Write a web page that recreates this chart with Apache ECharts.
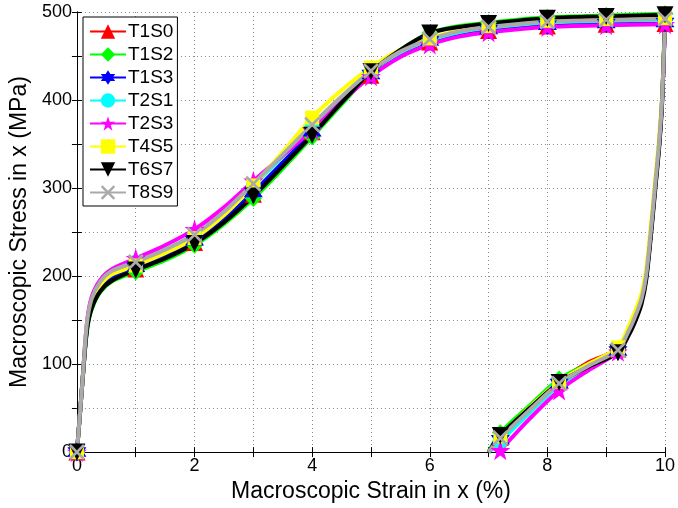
<!DOCTYPE html>
<html>
<head>
<meta charset="utf-8">
<script src="https://cdn.jsdelivr.net/npm/echarts@6/dist/echarts.min.js"></script>
<style>
  html, body { margin: 0; padding: 0; background: #fff; }
  #chart { width: 678px; height: 508px; }
</style>
</head>
<body>
<div id="chart"></div>
<script>
// strain (%) of the loading and unloading branches
const loadStrain = [0, 0.05, 0.1, 0.17, 0.25, 0.4, 0.6, 1, 1.5, 2, 2.5, 3, 3.5, 4, 4.5, 5, 5.5, 6, 6.5, 7, 8, 9, 10];
const unloadStrain = [10, 9.95, 9.9, 9.83, 9.76, 9.68, 9.6, 9.48, 9.37, 9.2, 8.7, 8.2, 7.7, 7.2, 7.0];
// strains where the markers are drawn
const loadMarks = [0, 1, 2, 3, 4, 5, 6, 7, 8, 9, 10];
const unloadMarks = [9.2, 8.2, 7.2];

const names = ["T1S0", "T1S2", "T1S3", "T2S1", "T2S3", "T4S5", "T6S7", "T8S9"];
const colors = ["#ff0000", "#00ff00", "#0000ff", "#00ffff", "#ff00ff", "#ffff00", "#000000", "#aaaaaa"];

// stress (MPa), loading
const loadT1S0 = [0, 42, 85, 140, 166, 186, 198, 208, 222, 238, 263, 293, 328, 364, 398, 428, 451, 466, 474, 479, 484, 486, 487];
const loadT1S2 = [0, 42, 85, 138, 162, 182, 194, 205, 218, 235, 259, 288, 322, 358, 395, 431, 457, 476, 484, 488, 494, 496, 498];
const loadT1S3 = [0, 42, 85, 141, 168, 188, 200, 210, 224, 240, 265, 295, 329, 364, 398, 429, 452, 467, 475, 480, 485, 487, 488];
const loadT2S1 = [0, 42, 86, 145, 173, 193, 205, 216, 230, 247, 272, 303, 336, 370, 403, 432, 454, 468, 477, 482, 488, 490, 491];
const loadT2S3 = [0, 43, 87, 147, 176, 196, 208, 220, 235, 253, 278, 308, 337, 366, 398, 427, 449, 463, 472, 477, 483, 485, 486];
const loadT4S5 = [0, 42, 85, 143, 170, 190, 202, 212, 226, 243, 269, 303, 341, 380, 411, 437, 457, 470, 479, 484, 490, 492, 493];
const loadT6S7 = [0, 42, 85, 138, 163, 183, 195, 207, 220, 237, 261, 291, 325, 360, 397, 432, 457, 476, 483, 487, 493, 495, 497];
const loadT8S9 = [0, 42, 86, 146, 174, 194, 206, 216, 230, 247, 273, 305, 338, 372, 404, 433, 455, 469, 478, 483, 489, 491, 492];

// stress (MPa), unloading
const unloadT1S0 = [487, 400, 351, 300, 250, 200, 173, 152, 137, 117, 102, 80, 50, 17, 0];
const unloadT1S2 = [498, 397, 348, 298, 248, 198, 171, 149, 133, 116, 100, 83, 53, 22, 0];
const unloadT1S3 = [488, 400, 350, 300, 250, 200, 173, 151, 135, 115, 98, 78, 47, 14, 0];
const unloadT2S1 = [491, 400, 350, 300, 250, 200, 173, 151, 135, 115, 97, 76, 45, 12, 0];
const unloadT2S3 = [486, 398, 349, 299, 249, 199, 172, 150, 134, 114, 93, 70, 38, 2, null];
const unloadT4S5 = [493, 405, 357, 307, 258, 208, 180, 158, 141, 119, 100, 80, 51, 18, 0];
const unloadT6S7 = [497, 395, 345, 295, 245, 195, 168, 146, 131, 113, 97, 79, 50, 19, 0];
const unloadT8S9 = [492, 400, 351, 301, 251, 201, 174, 152, 136, 116, 98, 78, 48, 16, 0];

const loads = [loadT1S0, loadT1S2, loadT1S3, loadT2S1, loadT2S3, loadT4S5, loadT6S7, loadT8S9];
const unloads = [unloadT1S0, unloadT1S2, unloadT1S3, unloadT2S1, unloadT2S3, unloadT4S5, unloadT6S7, unloadT8S9];

const star5 = "path://M50,0 L61.2,34.5 L97.6,34.5 L68.2,55.9 L79.4,90.5 L50,69.1 L20.6,90.5 L31.8,55.9 L2.4,34.5 L38.8,34.5 Z";
const star6 = "path://M50,0 L64.4,25 L93.3,25 L78.9,50 L93.3,75 L64.4,75 L50,100 L35.6,75 L6.7,75 L21.1,50 L6.7,25 L35.6,25 Z";
const cross = "path://M12,0 L50,38 L88,0 L100,12 L62,50 L100,88 L88,100 L50,62 L12,100 L0,88 L38,50 L0,12 Z";
const symbols = ["triangle", "diamond", star6, "circle", star5, "rect", "triangle", cross];
const rotates = [0, 0, 0, 0, 0, 0, 180, 0];
const sizes = [17, 17, 19, 15, 20, 14, 17, 16];

function points(xs, ys, marks) {
  let out = [];
  for (let i = 0; i < xs.length; i++) {
    if (ys[i] === null) continue;
    let p = { value: [xs[i], ys[i]] };
    if (!marks.includes(xs[i])) p.symbol = "none";
    out.push(p);
  }
  return out;
}

let series = [];
for (let k = 0; k < names.length; k++) {
  let common = {
    type: "line",
    name: names[k],
    symbol: symbols[k],
    symbolSize: sizes[k],
    symbolRotate: rotates[k],
    smooth: 0.3,
    showAllSymbol: true,
    itemStyle: { color: colors[k] },
    lineStyle: { width: 4, color: colors[k] },
    emphasis: { disabled: true },
    animation: false
  };
  series.push(Object.assign({}, common, { data: points(loadStrain, loads[k], loadMarks) }));
  series.push(Object.assign({}, common, { data: points(unloadStrain, unloads[k], unloadMarks) }));
}

const font = "Liberation Sans";
const chart = echarts.init(document.getElementById("chart"));
chart.setOption({
  animation: false,
  grid: { left: 76, right: 12, top: 12, bottom: 54 },
  legend: {
    data: names,
    orient: "vertical",
    left: 83,
    top: 17,
    itemWidth: 36,
    itemHeight: 18,
    itemGap: 4,
    padding: [5, 4, 4, 6],
    borderColor: "#000",
    borderWidth: 1,
    backgroundColor: "#fff",
    textStyle: { fontFamily: font, fontSize: 19, color: "#000", padding: [0, 0, 0, -3] },
    selectedMode: false
  },
  xAxis: [
    {
      type: "value",
      min: 0,
      max: 10,
      interval: 1,
      name: "Macroscopic Strain in x (%)",
      nameLocation: "middle",
      nameGap: 24,
      nameTextStyle: { fontFamily: font, fontSize: 23, color: "#000" },
      axisLine: { lineStyle: { color: "#000", width: 1 } },
      axisTick: { inside: true, length: 5, lineStyle: { color: "#000" } },
      axisLabel: {
        fontFamily: font,
        fontSize: 18,
        color: "#000",
        margin: 5,
        formatter: v => (v % 2 === 0 ? String(v) : "")
      },
      splitLine: { show: true, lineStyle: { type: [1, 3], color: "#888", width: 1 } }
    },
    {
      type: "value",
      position: "top",
      min: 0,
      max: 10,
      interval: 1,
      axisLine: { show: true, lineStyle: { color: "#000", width: 1 } },
      axisTick: { inside: true, length: 5, lineStyle: { color: "#000" } },
      axisLabel: { show: false },
      splitLine: { show: false }
    }
  ],
  yAxis: [
    {
      type: "value",
      min: 0,
      max: 500,
      interval: 50,
      name: "Macroscopic Stress in x (MPa)",
      nameLocation: "middle",
      nameGap: 42,
      nameTextStyle: { fontFamily: font, fontSize: 23, color: "#000" },
      axisLine: { show: true, lineStyle: { color: "#000", width: 1 } },
      axisTick: { show: true, inside: true, length: 5, lineStyle: { color: "#000" } },
      axisLabel: {
        fontFamily: font,
        fontSize: 18,
        color: "#000",
        margin: 5,
        formatter: v => (v % 100 === 0 ? String(v) : "")
      },
      splitLine: { show: true, lineStyle: { type: [1, 3], color: "#888", width: 1 } }
    },
    {
      type: "value",
      position: "right",
      min: 0,
      max: 500,
      interval: 50,
      axisLine: { show: true, lineStyle: { color: "#000", width: 1 } },
      axisTick: { show: true, inside: true, length: 5, lineStyle: { color: "#000" } },
      axisLabel: { show: false },
      splitLine: { show: false }
    }
  ],
  series: series
});
</script>
</body>
</html>
